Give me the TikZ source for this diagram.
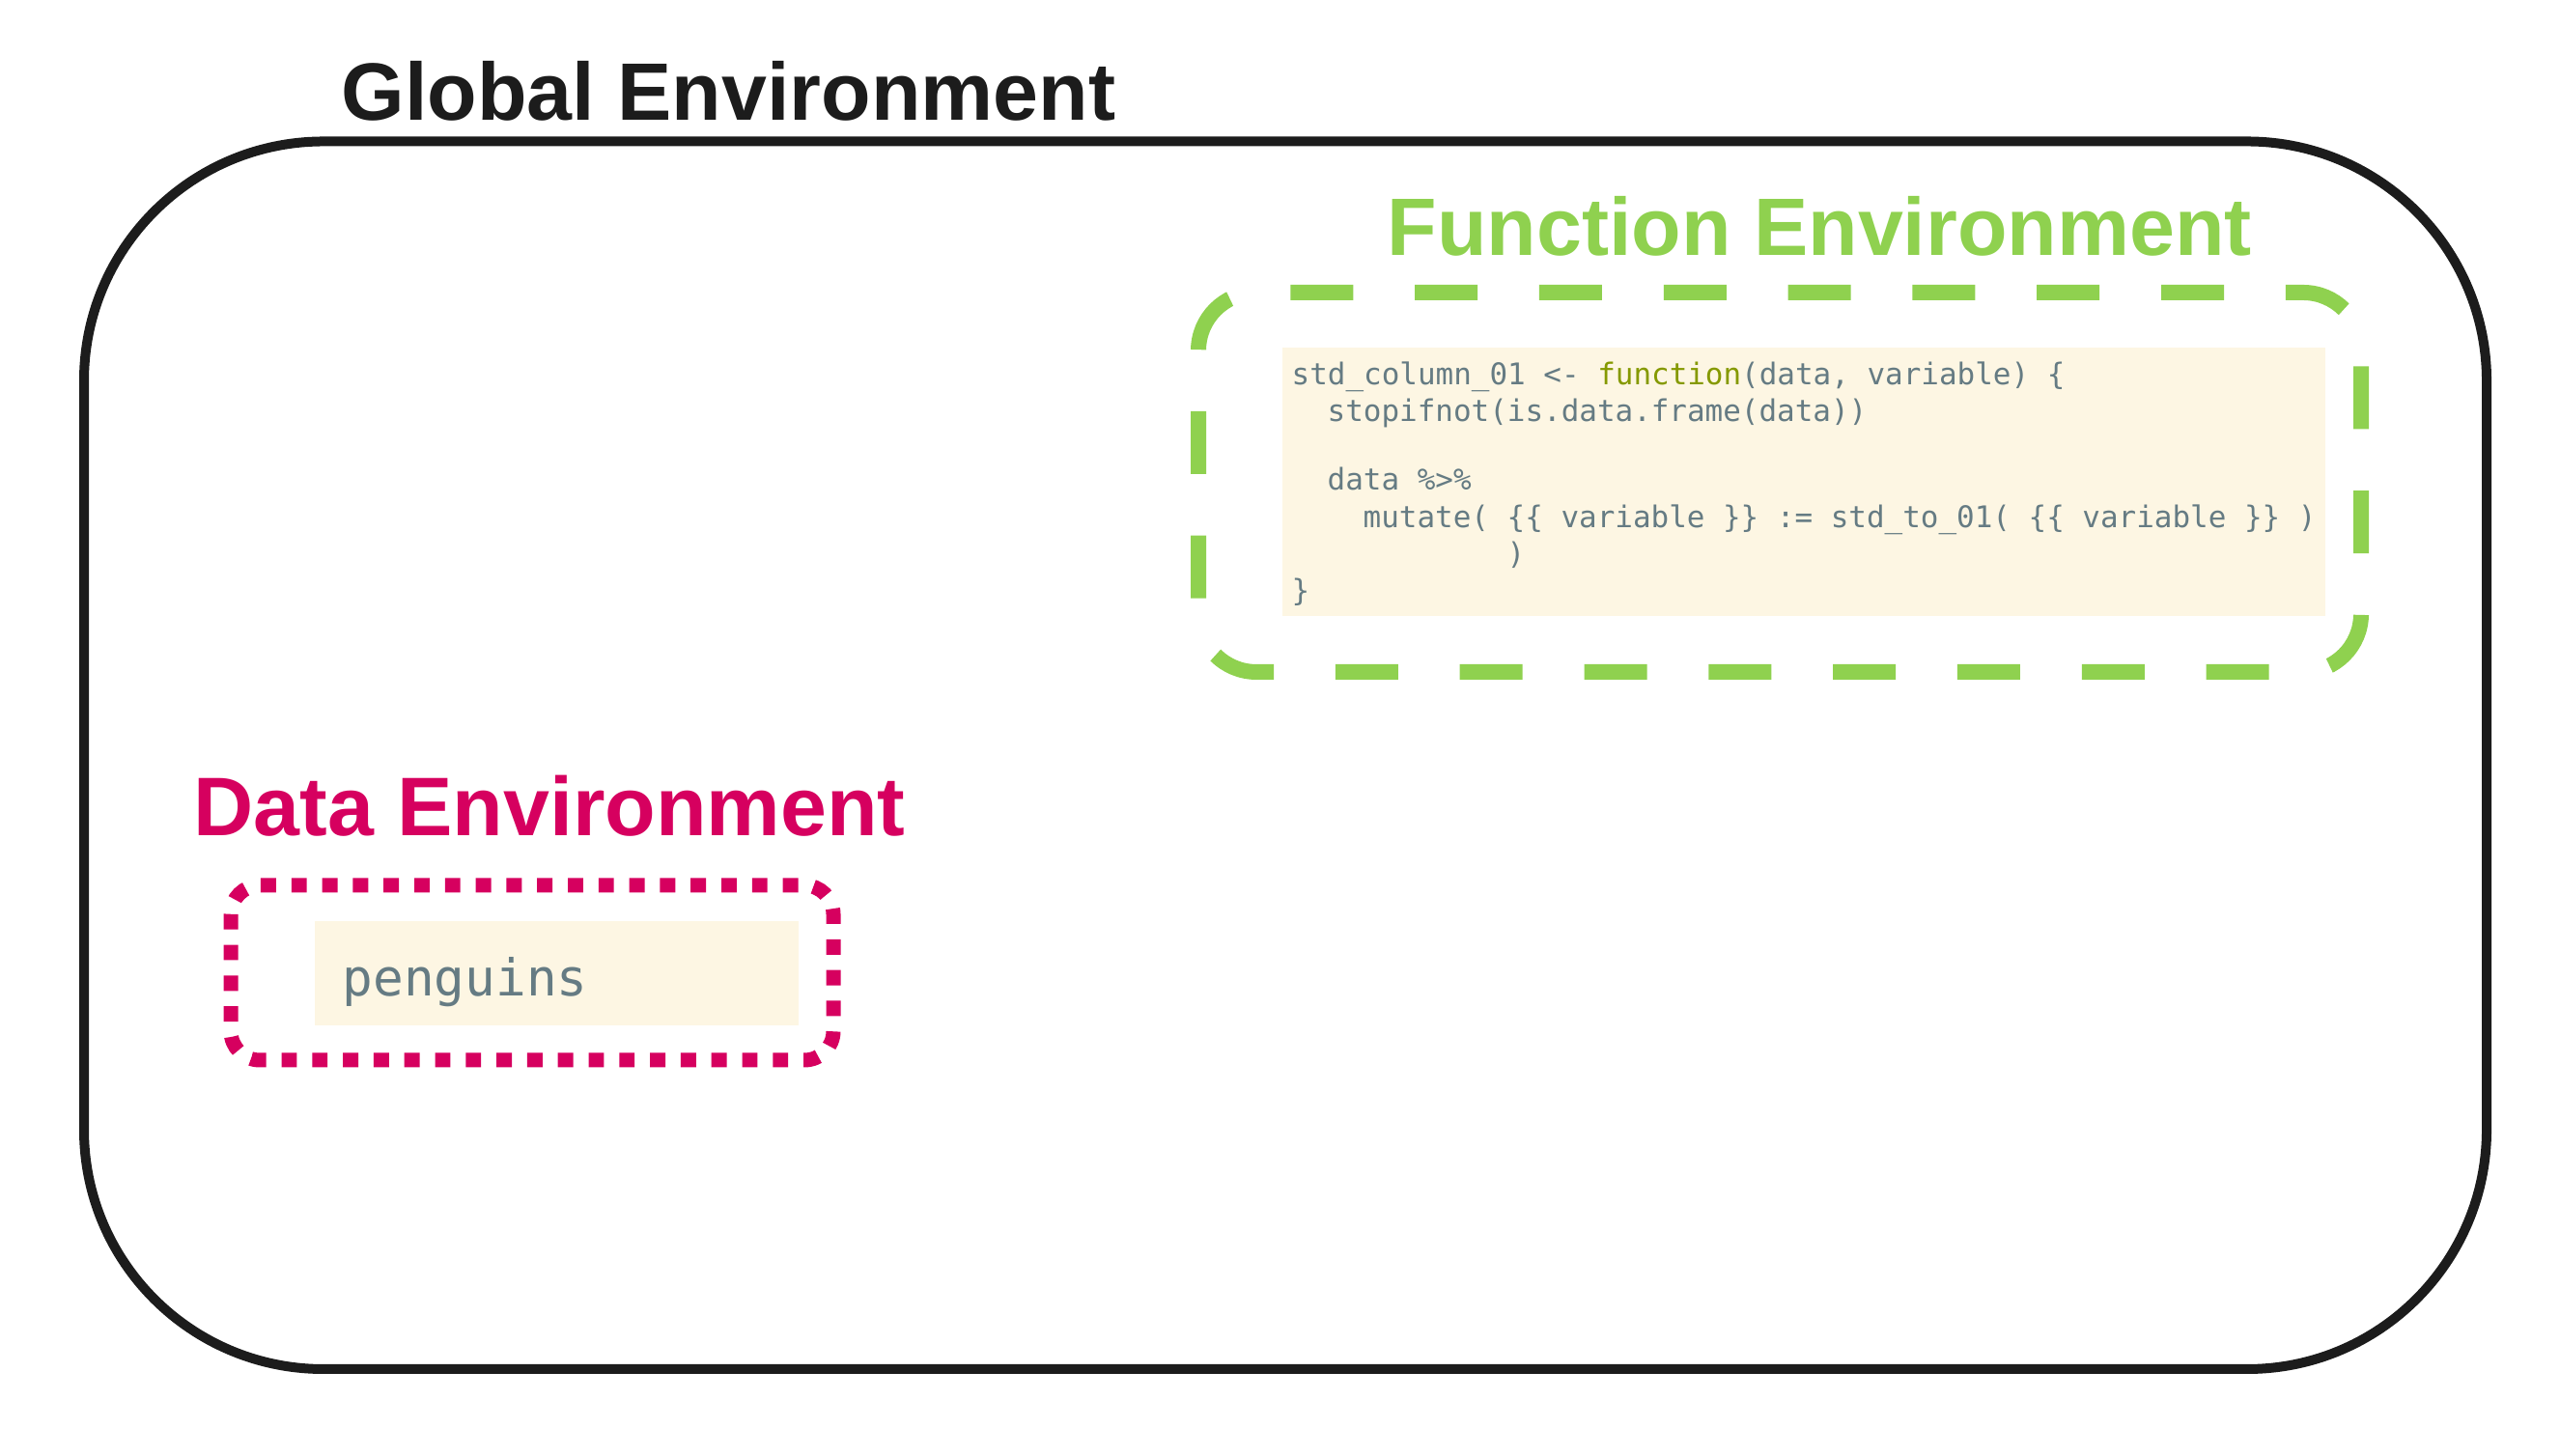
\documentclass[tikz,border=0pt]{standalone}
\usepackage{fontspec}
\setmainfont{Liberation Sans}
\newfontfamily\codefont{DejaVu Sans Mono}

\definecolor{globalblack}{HTML}{1C1C1C}
\definecolor{funcgreen}{HTML}{8FD14F}
\definecolor{datapink}{HTML}{D6005F}
\definecolor{codebg}{HTML}{FDF6E3}
\definecolor{codefg}{HTML}{657B83}
\definecolor{codekw}{HTML}{859900}

\begin{document}
\begin{tikzpicture}[every node/.style={inner sep=0pt}]

        % Styles for the three environment titles and the code text
        \tikzset{
            envtitle/.style={anchor=base west, font=\bfseries\fontsize{24}{29}\selectfont},
            codeline/.style={anchor=base west, text=codefg, font=\codefont\fontsize{8.8}{11}\selectfont},
        }

        \useasboundingbox (0,0) rectangle (26.51,15.08);

        % --- Global Environment: the big rounded frame ---
        \draw[line width=0.1cm, globalblack, rounded corners=2.48cm] (0.87,0.90) rectangle (25.75,13.615);
        \node[envtitle, globalblack] (globaltitle) at (3.53,13.83) {Global Environment};

        % --- Function Environment: dashed frame with the code inside ---
        % start on the left side with a dash; 24 periods go once round
        \draw[line width=0.16cm, funcgreen, dash pattern=on 0.65cm off 0.638cm, rounded corners=0.6cm]
            (12.41,10.17) -- (12.41,12.05) -- (24.45,12.05) -- (24.45,8.12) -- (12.41,8.12) -- (12.41,10.17);
        \node[envtitle, funcgreen] (functitle) at (14.36,12.43) {Function Environment};

        \fill[codebg] (13.28,8.70) rectangle (24.08,11.48);
        \node[codeline] (code1) at (13.37,11.09) {std\_column\_01 <- \textcolor{codekw}{function}(data, variable) \{};
        \node[codeline] (code2) at (13.74,10.71) {stopifnot(is.data.frame(data))};
        \node[codeline] (code3) at (13.74,10.00) {data \%>\%};
        \node[codeline] (code4) at (14.11,9.61) {mutate( \{\{ variable \}\} := std\_to\_01( \{\{ variable \}\} )};
        \node[codeline] (code5) at (15.60,9.23) {)};
        \node[codeline] (code6) at (13.37,8.85) {\}};

        % --- Data Environment: dotted frame around the data set ---
        \draw[line width=0.15cm, datapink, dash pattern=on 0.159cm off 0.159cm, rounded corners=0.3cm]
            (2.70,5.91) -- (8.63,5.91) -- (8.63,4.10) -- (2.39,4.10) -- (2.39,5.91) -- (2.70,5.91);
        \node[envtitle, datapink, font=\bfseries\fontsize{24.5}{29}\selectfont] (datatitle) at (2.00,6.42) {Data Environment};

        \fill[codebg] (3.26,4.46) rectangle (8.27,5.54);
        \node[anchor=base west, text=codefg, font=\codefont\fontsize{15}{18}\selectfont] (penguins) at (3.54,4.76) {penguins};

    \end{tikzpicture}
\end{document}
